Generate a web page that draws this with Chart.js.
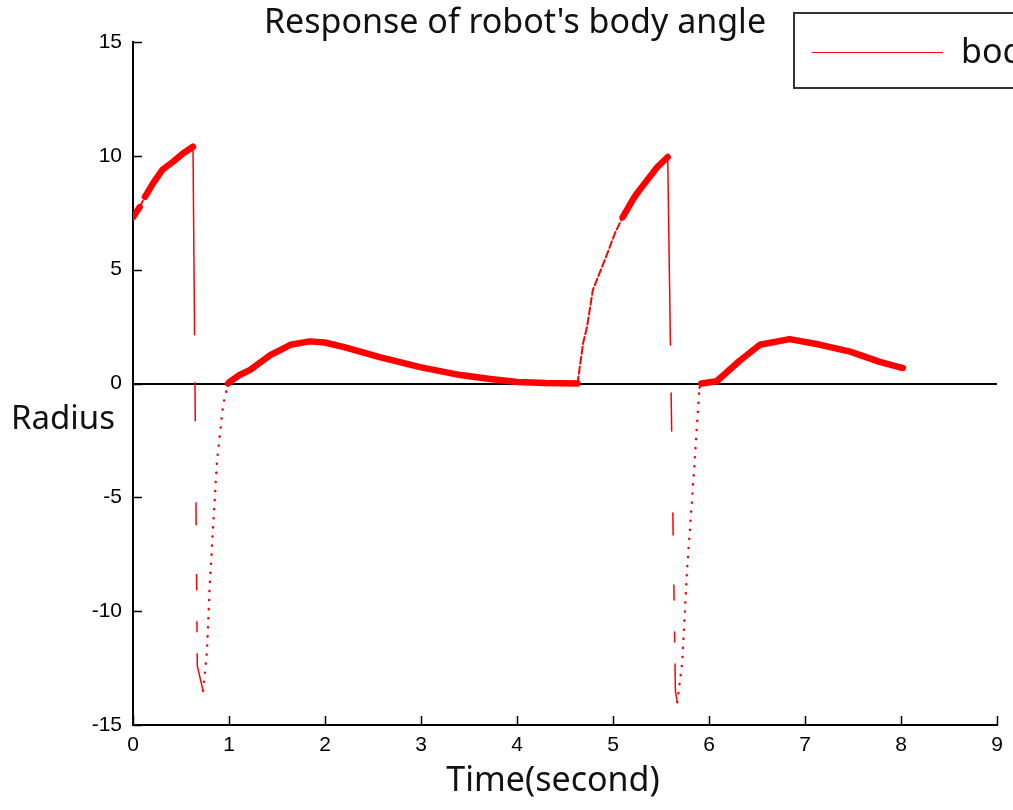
<!DOCTYPE html>
<html>
<head>
<meta charset="utf-8">
<title>Response of robot's body angle</title>
<script src="https://cdn.jsdelivr.net/npm/chart.js@4.4.1/dist/chart.umd.min.js"></script>
<style>
    html, body { margin: 0; padding: 0; background: #fff; overflow: hidden; }
    #wrap { position: relative; width: 1013px; height: 810px; }
</style>
</head>
<body>
<div id="wrap"><canvas id="bodyAngleChart"></canvas></div>
<script>
// simulated response, two gait cycles
const timeSec = [
    0, 0.07, 0.125, 0.21, 0.31, 0.42, 0.52, 0.625,
    0.67, 0.73, 0.77, 0.8, 0.83, 0.875, 0.94, 0.99,
    1.0, 1.1, 1.22, 1.43, 1.64, 1.84, 2.0, 2.2, 2.57, 2.99, 3.41, 3.72, 4.0, 4.3, 4.63,
    4.69, 4.73, 4.79, 4.86, 4.94, 5.02, 5.1, 5.21, 5.25, 5.35, 5.46, 5.57,
    5.65, 5.67, 5.72, 5.77, 5.83, 5.9, 5.92,
    6.08, 6.2, 6.32, 6.53, 6.84, 7.16, 7.47, 7.78, 8.02,
];
const bodyAngle = [
    7.3, 7.75, 8.2, 8.8, 9.4, 9.75, 10.1, 10.4,
    -12.4, -13.5, -11.8, -8.8, -6.6, -3.4, -0.9, 0,
    0.05, 0.35, 0.6, 1.25, 1.7, 1.85, 1.8, 1.6, 1.16, 0.72, 0.37, 0.2, 0.07, 0.02, 0,
    1.8, 2.5, 4.1, 4.85, 5.7, 6.6, 7.3, 8.1, 8.35, 8.9, 9.5, 9.95,
    -13.5, -14.0, -12.3, -8.3, -4.7, -0.2, 0,
    0.1, 0.55, 1.0, 1.7, 1.95, 1.7, 1.4, 0.95, 0.68,
];
const xRange = [0, 9];
const yRange = [-15, 15];
const xStep = 1;
const yStep = 5;

const seriesName = "body angle";
const chartTitle = "Response of robot's body angle";
const xTitle = "Time(second)";
const yTitle = "Radius";

const uiFont = "'Noto Sans', 'Open Sans', sans-serif";
const tickFont = "'Liberation Sans', Arial, sans-serif";

// fast swings are drawn thin and broken, slow parts as a heavy trace
function segStyle(ctx) {
    const dx = Math.abs(ctx.p1.x - ctx.p0.x) || 0.01;
    const dy = ctx.p1.y - ctx.p0.y;
    const slope = Math.abs(dy) / dx;
    const below = ctx.p0.parsed.y <= 0 && ctx.p1.parsed.y <= 0;
    if (slope > 3 && dy > 0) return { w: 1.5, dash: [188, 48, 38, 82, 22, 50, 15, 32, 10, 22] };
    if (below && dy < 0 && slope > 3) return { w: 2.5, dash: [0.1, 9] };
    if (slope > 1.8) return { w: 2, dash: [7, 3] };
    return { w: 6.5, dash: [] };
}

const decorations = {
    id: "decorations",
    afterDraw(chart) {
        const { ctx, chartArea, scales } = chart;
        ctx.save();

        // tick marks pointing into the plot
        ctx.strokeStyle = "#000";
        ctx.lineWidth = 1.5;
        ctx.beginPath();
        scales.x.ticks.forEach((t, i) => {
            const px = Math.round(scales.x.getPixelForTick(i)) + 0.5;
            ctx.moveTo(px, chartArea.bottom);
            ctx.lineTo(px, chartArea.bottom - 9);
        });
        scales.y.ticks.forEach((t, i) => {
            const py = Math.round(scales.y.getPixelForTick(i)) + 0.5;
            ctx.moveTo(chartArea.left, py);
            ctx.lineTo(chartArea.left + 9, py);
        });
        ctx.stroke();

        // titles
        ctx.fillStyle = "#111";
        ctx.textBaseline = "alphabetic";
        ctx.textAlign = "center";
        ctx.font = "34px " + uiFont;
        ctx.fillText(chartTitle, 515, 33);
        ctx.fillText(xTitle, 553, 791);
        ctx.textAlign = "left";
        ctx.font = "33px " + uiFont;
        ctx.fillText(yTitle, 11, 429);

        // legend box, runs off the right edge
        ctx.fillStyle = "#fff";
        ctx.fillRect(794, 13, 260, 75);
        ctx.strokeStyle = "#333";
        ctx.lineWidth = 2;
        ctx.strokeRect(794, 13, 260, 75);
        ctx.strokeStyle = "#ff0000";
        ctx.lineWidth = 1;
        ctx.beginPath();
        ctx.moveTo(812, 52.5);
        ctx.lineTo(943, 52.5);
        ctx.stroke();
        ctx.fillStyle = "#111";
        ctx.font = "34px " + uiFont;
        ctx.fillText(seriesName, 961, 63);

        ctx.restore();
    },
};

const ctx = document.getElementById("bodyAngleChart").getContext("2d");
new Chart(ctx, {
    type: "scatter",
    data: {
        datasets: [
            {
                label: seriesName,
                data: timeSec.map((t, i) => ({ x: t, y: bodyAngle[i] })),
                showLine: true,
                borderColor: "#ff0000",
                backgroundColor: "#ff0000",
                pointRadius: 0,
                borderWidth: 6.5,
                borderCapStyle: "round",
                borderJoinStyle: "round",
                tension: 0,
                segment: {
                    borderWidth: (c) => segStyle(c).w,
                    borderDash: (c) => segStyle(c).dash,
                },
            },
        ],
    },
    options: {
        responsive: true,
        maintainAspectRatio: false,
        animation: false,
        layout: { padding: { left: 0, top: 42, right: 16, bottom: 0 } },
        plugins: {
            legend: { display: false },
            tooltip: { enabled: false },
        },
        scales: {
            x: {
                type: "linear",
                min: xRange[0],
                max: xRange[1],
                afterFit: (scale) => { scale.height = 85; },
                ticks: {
                    stepSize: xStep,
                    padding: 8,
                    color: "#000",
                    font: { family: tickFont, size: 21 },
                    maxRotation: 0,
                },
                grid: { display: true, drawTicks: false, color: "rgba(0,0,0,0)" },
                border: { display: true, color: "#000", width: 2 },
            },
            y: {
                type: "linear",
                min: yRange[0],
                max: yRange[1],
                afterFit: (scale) => { scale.width = 133; },
                ticks: {
                    stepSize: yStep,
                    padding: 11,
                    color: "#000",
                    font: { family: tickFont, size: 21 },
                },
                grid: {
                    display: true,
                    drawTicks: false,
                    lineWidth: 2,
                    color: (c) => (c.tick && c.tick.value === 0 ? "#000" : "rgba(0,0,0,0)"),
                },
                border: { display: true, color: "#000", width: 2 },
            },
        },
    },
    plugins: [decorations],
});
</script>
</body>
</html>
